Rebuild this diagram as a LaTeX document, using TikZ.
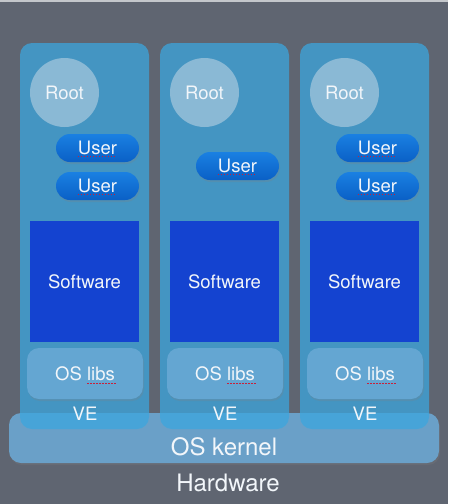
\documentclass[tikz,border=0pt]{standalone}
\usepackage{fontspec}
\setmainfont{TeX Gyre Heros}
\usetikzlibrary{shadows,calc}
\definecolor{bgc}{HTML}{5F6571}
\definecolor{topc}{HTML}{C4C7CB}
\definecolor{vec}{RGB}{60,166,222}
\definecolor{kernc}{HTML}{6AA0C8}
\definecolor{rootc}{HTML}{8AB9D5}
\definecolor{usertop}{HTML}{1A80E2}
\definecolor{userbot}{HTML}{0A60C6}
\definecolor{softc}{HTML}{1443D0}
\definecolor{libc}{HTML}{64A6D2}
\definecolor{txtc}{HTML}{F2F6FA}
\definecolor{spellc}{HTML}{C8203A}
\tikzset{
  shade/.style={drop shadow={shadow xshift=1pt,shadow yshift=-2pt,opacity=0.25}},
  vebox/.style={fill=vec,fill opacity=0.75,rounded corners=12pt,minimum width=129pt,minimum height=386pt,inner sep=0pt},
  kernbox/.style={fill=kernc,rounded corners=12pt,minimum width=430pt,minimum height=50pt,inner sep=0pt,shade},
  rootdisk/.style={circle,fill=rootc,minimum size=69pt,inner sep=0pt,text=txtc,font=\fontsize{18.5}{22}\selectfont},
  userpill/.style={rounded corners=14pt,top color=usertop,bottom color=userbot,minimum width=83pt,minimum height=28pt,inner sep=0pt,text=txtc,font=\fontsize{18.5}{22}\selectfont,shade},
  softbox/.style={fill=softc,minimum width=109pt,minimum height=121pt,inner sep=0pt,text=txtc,font=\fontsize{18.5}{22}\selectfont},
  libbox/.style={fill=libc,rounded corners=12pt,minimum width=116pt,minimum height=51pt,inner sep=0pt,text=txtc,font=\fontsize{18.5}{22}\selectfont,shade},
  smalltxt/.style={text=txtc,font=\fontsize{18.5}{22}\selectfont,inner sep=0pt},
  bigtxt/.style={text=txtc,font=\fontsize{24}{28}\selectfont,inner sep=0pt},
  spell/.style={spellc,line width=1.2pt,dash pattern=on 1.6pt off 1.4pt}
}
\begin{document}
\begin{tikzpicture}[x=1pt,y=-1pt]
\useasboundingbox (0,0) rectangle (448,504);
\fill[bgc] (0,0) rectangle (448,504);
\fill[topc] (0,0) rectangle (448,2);
% kernel
\node[kernbox] (kernel) at (224,438) {};
% VE containers
\node[vebox] (ve1) at (84.5,236) {};
\node[vebox] (ve2) at (224.5,236) {};
\node[vebox] (ve3) at (364.5,236) {};
% labels
\node[bigtxt] (kernlbl) at (224,447) {OS kernel};
\node[bigtxt] (hwlbl) at (228,483) {Hardware};
% VE 1
\node[rootdisk] (root1) at (64.5,92.5) {Root};
\node[userpill] (u1a) at (97.5,148) {User};
\node[userpill] (u1b) at (97.5,186) {User};
\node[softbox] (sw1) at (84.5,281.5) {Software};
\node[libbox] (lib1) at (85,373.5) {OS libs};
\node[smalltxt] (ve1lbl) at (85,414) {VE};
% VE 2
\node[rootdisk] (root2) at (204.5,92.5) {Root};
\node[userpill] (u2a) at (237.5,166) {User};
\node[softbox] (sw2) at (224.5,281.5) {Software};
\node[libbox] (lib2) at (225,373.5) {OS libs};
\node[smalltxt] (ve2lbl) at (225,414) {VE};
% VE 3
\node[rootdisk] (root3) at (344.5,92.5) {Root};
\node[userpill] (u3a) at (377.5,148) {User};
\node[userpill] (u3b) at (377.5,186) {User};
\node[softbox] (sw3) at (364.5,281.5) {Software};
\node[libbox] (lib3) at (365,373.5) {OS libs};
\node[smalltxt] (ve3lbl) at (365,414) {VE};
% spell-check underlines
\foreach \n in {u1a,u1b,u2a,u3a,u3b}{
  \draw[spell] ($(\n.center)+(-20,8.5)$) -- ($(\n.center)+(18,8.5)$);
}
\foreach \n in {lib1,lib2,lib3}{
  \draw[spell] ($(\n.center)+(2,10)$) -- ($(\n.center)+(31,10)$);
}
\end{tikzpicture}
\end{document}
